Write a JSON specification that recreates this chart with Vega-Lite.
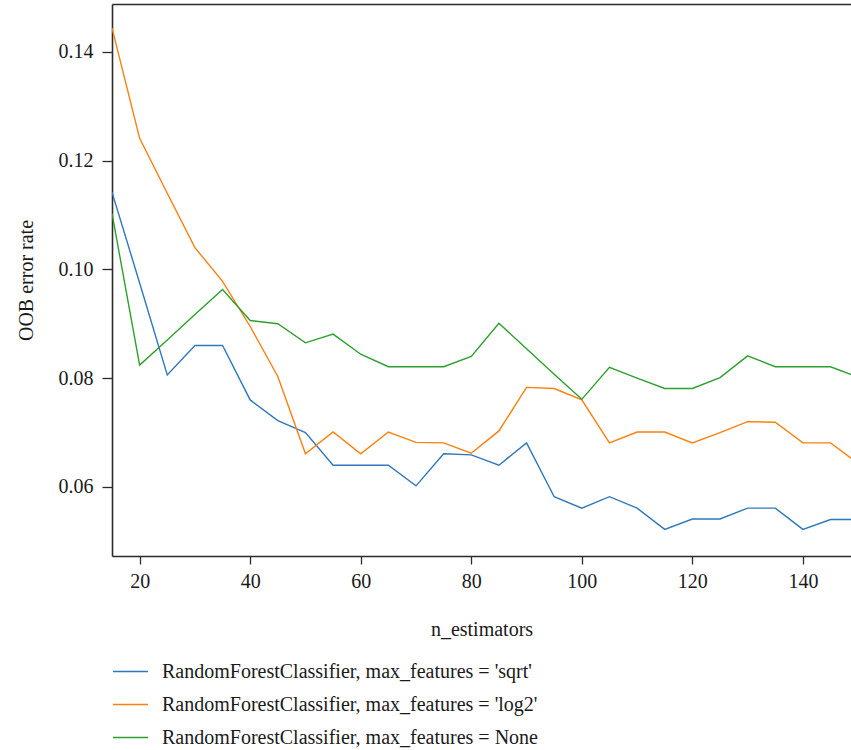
{
  "$schema": "https://vega.github.io/schema/vega-lite/v6.json",
  "width": 739,
  "height": 552,
  "autosize": {"type": "none"},
  "padding": {"left": 112, "top": 4, "right": 0, "bottom": 194},
  "background": "white",
  "config": {
    "view": {"stroke": null},
    "font": "Liberation Serif",
    "axis": {
      "grid": false,
      "domainColor": "#2b2b2b",
      "domainWidth": 1.6,
      "tickColor": "#2b2b2b",
      "tickWidth": 1.3,
      "labelFont": "Liberation Serif",
      "labelFontSize": 20,
      "labelColor": "#1a1a1a",
      "titleFont": "Liberation Serif",
      "titleFontSize": 20,
      "titleFontWeight": "normal",
      "titleColor": "#1a1a1a"
    },
    "legend": {
      "labelFont": "Liberation Serif",
      "labelFontSize": 20,
      "labelColor": "#1a1a1a",
      "labelLimit": 0
    }
  },
  "data": {
    "values": [
      {"n": 15, "err": 0.1142, "series": "RandomForestClassifier, max_features = 'sqrt'"},
      {"n": 20, "err": 0.0975, "series": "RandomForestClassifier, max_features = 'sqrt'"},
      {"n": 25, "err": 0.0806, "series": "RandomForestClassifier, max_features = 'sqrt'"},
      {"n": 30, "err": 0.0860, "series": "RandomForestClassifier, max_features = 'sqrt'"},
      {"n": 35, "err": 0.0860, "series": "RandomForestClassifier, max_features = 'sqrt'"},
      {"n": 40, "err": 0.0760, "series": "RandomForestClassifier, max_features = 'sqrt'"},
      {"n": 45, "err": 0.0722, "series": "RandomForestClassifier, max_features = 'sqrt'"},
      {"n": 50, "err": 0.0700, "series": "RandomForestClassifier, max_features = 'sqrt'"},
      {"n": 55, "err": 0.0640, "series": "RandomForestClassifier, max_features = 'sqrt'"},
      {"n": 60, "err": 0.0640, "series": "RandomForestClassifier, max_features = 'sqrt'"},
      {"n": 65, "err": 0.0640, "series": "RandomForestClassifier, max_features = 'sqrt'"},
      {"n": 70, "err": 0.0602, "series": "RandomForestClassifier, max_features = 'sqrt'"},
      {"n": 75, "err": 0.0661, "series": "RandomForestClassifier, max_features = 'sqrt'"},
      {"n": 80, "err": 0.0659, "series": "RandomForestClassifier, max_features = 'sqrt'"},
      {"n": 85, "err": 0.0640, "series": "RandomForestClassifier, max_features = 'sqrt'"},
      {"n": 90, "err": 0.0681, "series": "RandomForestClassifier, max_features = 'sqrt'"},
      {"n": 95, "err": 0.0582, "series": "RandomForestClassifier, max_features = 'sqrt'"},
      {"n": 100, "err": 0.0561, "series": "RandomForestClassifier, max_features = 'sqrt'"},
      {"n": 105, "err": 0.0582, "series": "RandomForestClassifier, max_features = 'sqrt'"},
      {"n": 110, "err": 0.0561, "series": "RandomForestClassifier, max_features = 'sqrt'"},
      {"n": 115, "err": 0.0522, "series": "RandomForestClassifier, max_features = 'sqrt'"},
      {"n": 120, "err": 0.0541, "series": "RandomForestClassifier, max_features = 'sqrt'"},
      {"n": 125, "err": 0.0541, "series": "RandomForestClassifier, max_features = 'sqrt'"},
      {"n": 130, "err": 0.0561, "series": "RandomForestClassifier, max_features = 'sqrt'"},
      {"n": 135, "err": 0.0561, "series": "RandomForestClassifier, max_features = 'sqrt'"},
      {"n": 140, "err": 0.0522, "series": "RandomForestClassifier, max_features = 'sqrt'"},
      {"n": 145, "err": 0.0540, "series": "RandomForestClassifier, max_features = 'sqrt'"},
      {"n": 150, "err": 0.0540, "series": "RandomForestClassifier, max_features = 'sqrt'"},
      {"n": 15, "err": 0.1444, "series": "RandomForestClassifier, max_features = 'log2'"},
      {"n": 20, "err": 0.1241, "series": "RandomForestClassifier, max_features = 'log2'"},
      {"n": 25, "err": 0.1140, "series": "RandomForestClassifier, max_features = 'log2'"},
      {"n": 30, "err": 0.1040, "series": "RandomForestClassifier, max_features = 'log2'"},
      {"n": 35, "err": 0.0978, "series": "RandomForestClassifier, max_features = 'log2'"},
      {"n": 40, "err": 0.0895, "series": "RandomForestClassifier, max_features = 'log2'"},
      {"n": 45, "err": 0.0803, "series": "RandomForestClassifier, max_features = 'log2'"},
      {"n": 50, "err": 0.0661, "series": "RandomForestClassifier, max_features = 'log2'"},
      {"n": 55, "err": 0.0701, "series": "RandomForestClassifier, max_features = 'log2'"},
      {"n": 60, "err": 0.0661, "series": "RandomForestClassifier, max_features = 'log2'"},
      {"n": 65, "err": 0.0701, "series": "RandomForestClassifier, max_features = 'log2'"},
      {"n": 70, "err": 0.0682, "series": "RandomForestClassifier, max_features = 'log2'"},
      {"n": 75, "err": 0.0681, "series": "RandomForestClassifier, max_features = 'log2'"},
      {"n": 80, "err": 0.0662, "series": "RandomForestClassifier, max_features = 'log2'"},
      {"n": 85, "err": 0.0703, "series": "RandomForestClassifier, max_features = 'log2'"},
      {"n": 90, "err": 0.0783, "series": "RandomForestClassifier, max_features = 'log2'"},
      {"n": 95, "err": 0.0781, "series": "RandomForestClassifier, max_features = 'log2'"},
      {"n": 100, "err": 0.0760, "series": "RandomForestClassifier, max_features = 'log2'"},
      {"n": 105, "err": 0.0681, "series": "RandomForestClassifier, max_features = 'log2'"},
      {"n": 110, "err": 0.0701, "series": "RandomForestClassifier, max_features = 'log2'"},
      {"n": 115, "err": 0.0701, "series": "RandomForestClassifier, max_features = 'log2'"},
      {"n": 120, "err": 0.0681, "series": "RandomForestClassifier, max_features = 'log2'"},
      {"n": 125, "err": 0.0700, "series": "RandomForestClassifier, max_features = 'log2'"},
      {"n": 130, "err": 0.0720, "series": "RandomForestClassifier, max_features = 'log2'"},
      {"n": 135, "err": 0.0719, "series": "RandomForestClassifier, max_features = 'log2'"},
      {"n": 140, "err": 0.0681, "series": "RandomForestClassifier, max_features = 'log2'"},
      {"n": 145, "err": 0.0681, "series": "RandomForestClassifier, max_features = 'log2'"},
      {"n": 150, "err": 0.0643, "series": "RandomForestClassifier, max_features = 'log2'"},
      {"n": 15, "err": 0.1103, "series": "RandomForestClassifier, max_features = None"},
      {"n": 20, "err": 0.0824, "series": "RandomForestClassifier, max_features = None"},
      {"n": 25, "err": 0.0870, "series": "RandomForestClassifier, max_features = None"},
      {"n": 30, "err": 0.0917, "series": "RandomForestClassifier, max_features = None"},
      {"n": 35, "err": 0.0963, "series": "RandomForestClassifier, max_features = None"},
      {"n": 40, "err": 0.0906, "series": "RandomForestClassifier, max_features = None"},
      {"n": 45, "err": 0.0900, "series": "RandomForestClassifier, max_features = None"},
      {"n": 50, "err": 0.0865, "series": "RandomForestClassifier, max_features = None"},
      {"n": 55, "err": 0.0881, "series": "RandomForestClassifier, max_features = None"},
      {"n": 60, "err": 0.0844, "series": "RandomForestClassifier, max_features = None"},
      {"n": 65, "err": 0.0821, "series": "RandomForestClassifier, max_features = None"},
      {"n": 70, "err": 0.0821, "series": "RandomForestClassifier, max_features = None"},
      {"n": 75, "err": 0.0821, "series": "RandomForestClassifier, max_features = None"},
      {"n": 80, "err": 0.0840, "series": "RandomForestClassifier, max_features = None"},
      {"n": 85, "err": 0.0901, "series": "RandomForestClassifier, max_features = None"},
      {"n": 90, "err": 0.0854, "series": "RandomForestClassifier, max_features = None"},
      {"n": 95, "err": 0.0807, "series": "RandomForestClassifier, max_features = None"},
      {"n": 100, "err": 0.0761, "series": "RandomForestClassifier, max_features = None"},
      {"n": 105, "err": 0.0820, "series": "RandomForestClassifier, max_features = None"},
      {"n": 110, "err": 0.0800, "series": "RandomForestClassifier, max_features = None"},
      {"n": 115, "err": 0.0781, "series": "RandomForestClassifier, max_features = None"},
      {"n": 120, "err": 0.0781, "series": "RandomForestClassifier, max_features = None"},
      {"n": 125, "err": 0.0801, "series": "RandomForestClassifier, max_features = None"},
      {"n": 130, "err": 0.0841, "series": "RandomForestClassifier, max_features = None"},
      {"n": 135, "err": 0.0821, "series": "RandomForestClassifier, max_features = None"},
      {"n": 140, "err": 0.0821, "series": "RandomForestClassifier, max_features = None"},
      {"n": 145, "err": 0.0821, "series": "RandomForestClassifier, max_features = None"},
      {"n": 150, "err": 0.0802, "series": "RandomForestClassifier, max_features = None"}
    ]
  },
  "layer": [
    {
      "mark": {"type": "line", "strokeWidth": 1.4, "clip": true},
      "encoding": {
        "x": {
          "field": "n",
          "type": "quantitative",
          "scale": {"domain": [15, 148.7], "nice": false, "zero": false},
          "axis": {
            "title": "n_estimators",
            "values": [20, 40, 60, 80, 100, 120, 140],
            "tickSize": 8,
            "labelPadding": 7,
            "titlePadding": 28,
            "labelFlush": false
          }
        },
        "y": {
          "field": "err",
          "type": "quantitative",
          "scale": {"domain": [0.0473, 0.1488], "nice": false, "zero": false},
          "axis": {
            "title": "OOB error rate",
            "values": [0.06, 0.08, 0.1, 0.12, 0.14],
            "format": ".2f",
            "tickSize": 10,
            "labelPadding": 9,
            "titlePadding": 22,
            "labelFlush": false
          }
        },
        "color": {
          "field": "series",
          "type": "nominal",
          "sort": [
            "RandomForestClassifier, max_features = 'sqrt'",
            "RandomForestClassifier, max_features = 'log2'",
            "RandomForestClassifier, max_features = None"
          ],
          "scale": {
            "domain": [
              "RandomForestClassifier, max_features = 'sqrt'",
              "RandomForestClassifier, max_features = 'log2'",
              "RandomForestClassifier, max_features = None"
            ],
            "range": ["#2f78bc", "#ff7f0e", "#2ca02c"]
          },
          "legend": {
            "title": null,
            "orient": "none",
            "legendX": 0,
            "legendY": 649,
            "symbolType": "stroke",
            "symbolSize": 1225,
            "symbolStrokeWidth": 1.4,
            "labelOffset": 13,
            "labelLimit": 0,
            "rowPadding": 4
          }
        }
      }
    },
    {
      "mark": {"type": "line", "opacity": 0},
      "encoding": {
        "x": {
          "field": "n",
          "type": "quantitative",
          "scale": {"domain": [15, 148.7], "nice": false, "zero": false},
          "axis": {"orient": "top", "labels": false, "ticks": false, "title": null}
        },
        "y": {
          "field": "err",
          "type": "quantitative",
          "axis": {
            "title": "OOB error rate",
            "values": [0.06, 0.08, 0.1, 0.12, 0.14],
            "format": ".2f",
            "tickSize": 10,
            "labelPadding": 9,
            "titlePadding": 22,
            "labelFlush": false
          }
        }
      }
    }
  ],
  "resolve": {"axis": {"x": "independent"}}
}
